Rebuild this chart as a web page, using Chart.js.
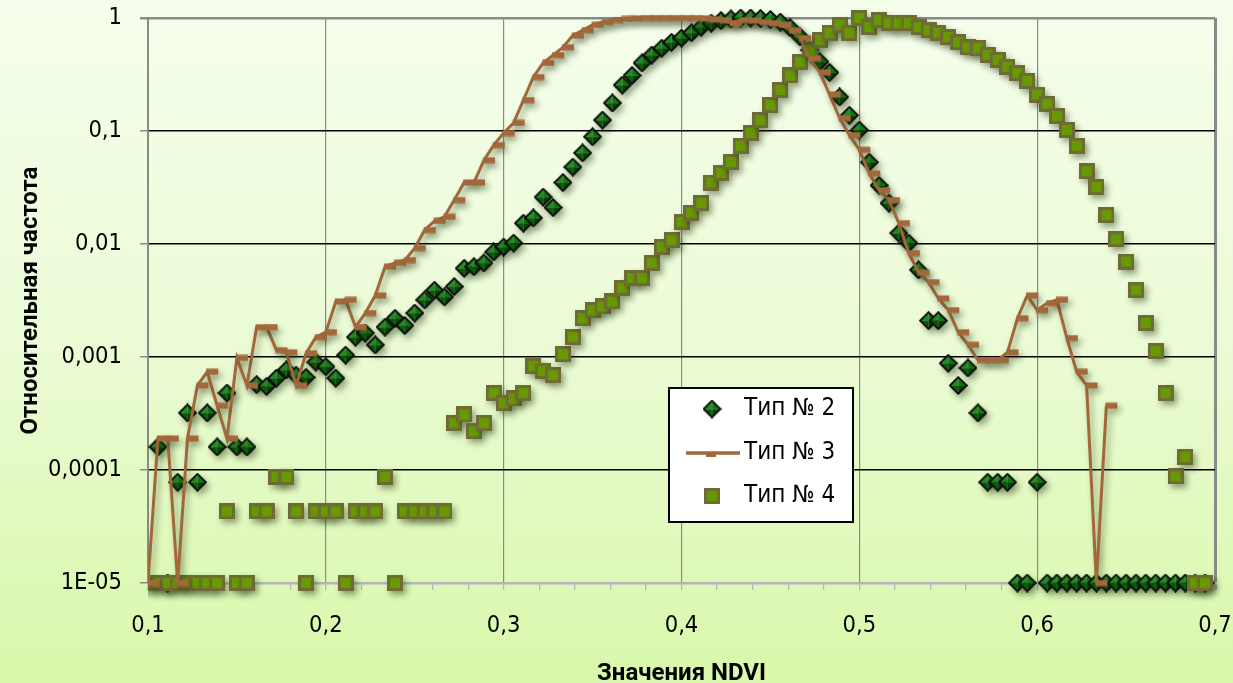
<!DOCTYPE html>
<html><head><meta charset="utf-8">
<script src="https://cdn.jsdelivr.net/npm/chart.js@4.4.1/dist/chart.umd.min.js"></script>
<style>html,body{margin:0;padding:0;background:#e8fbc8;}#wrap{width:1233px;height:683px;position:relative;}canvas{display:block;}</style>
</head><body><div id="wrap"><canvas id="c" width="1233" height="683"></canvas></div>
<script>
const ndvi = [0.1,0.1056,0.1111,0.1167,0.1222,0.1278,0.1333,0.1389,0.1444,0.15,
0.1556,0.1611,0.1667,0.1722,0.1778,0.1833,0.1889,0.1944,0.2,0.2056,
0.2111,0.2167,0.2222,0.2278,0.2333,0.2389,0.2444,0.25,0.2556,0.2611,
0.2667,0.2722,0.2778,0.2833,0.2889,0.2944,0.3,0.3056,0.3111,0.3167,
0.3222,0.3278,0.3333,0.3389,0.3444,0.35,0.3556,0.3611,0.3667,0.3722,
0.3778,0.3833,0.3889,0.3944,0.4,0.4056,0.4111,0.4167,0.4222,0.4278,
0.4333,0.4389,0.4444,0.45,0.4556,0.4611,0.4667,0.4722,0.4778,0.4833,
0.4889,0.4944,0.5,0.5056,0.5111,0.5167,0.5222,0.5278,0.5333,0.5389,
0.5444,0.55,0.5556,0.5611,0.5667,0.5722,0.5778,0.5833,0.5889,0.5944,
0.6,0.6056,0.6111,0.6167,0.6222,0.6278,0.6333,0.6389,0.6444,0.65,
0.6556,0.6611,0.6667,0.6722,0.6778,0.6833,0.6889,0.6944,0.7];

const type2 = [null,1.6e-4,1e-5,7.8e-5,3.2e-4,7.8e-5,3.2e-4,1.6e-4,4.8e-4,1.6e-4,
1.6e-4,5.7e-4,5.5e-4,6.5e-4,7.7e-4,6.9e-4,6.6e-4,9e-4,8.2e-4,6.5e-4,
1.04e-3,1.5e-3,1.63e-3,1.28e-3,1.84e-3,2.2e-3,1.9e-3,2.45e-3,3.2e-3,3.9e-3,
3.4e-3,4.2e-3,6.1e-3,6.3e-3,6.8e-3,8.5e-3,9.4e-3,1.02e-2,1.53e-2,1.7e-2,
2.6e-2,2.1e-2,3.5e-2,4.8e-2,6.4e-2,8.9e-2,0.125,0.177,0.255,0.31,
0.40,0.47,0.54,0.61,0.665,0.74,0.83,0.9,0.95,0.98,
1.0,1.0,0.99,0.97,0.92,0.82,0.68,0.52,0.41,0.33,
0.2,0.138,0.102,0.053,0.033,0.023,0.0125,0.0102,5.9e-3,2.1e-3,
2.1e-3,8.8e-4,5.6e-4,8e-4,3.2e-4,7.8e-5,7.8e-5,7.8e-5,1e-5,1e-5,
7.8e-5,1e-5,1e-5,1e-5,1e-5,1e-5,1e-5,1e-5,1e-5,1e-5,
1e-5,1e-5,1e-5,1e-5,1e-5,1e-5,1e-5,1e-5,null];

const type3 = [1e-5,1.9e-4,1.9e-4,1e-5,1.9e-4,5.6e-4,7.4e-4,3.7e-4,1.9e-4,9.8e-4,
5.6e-4,1.84e-3,1.84e-3,1.15e-3,1.1e-3,5.6e-4,1.08e-3,1.5e-3,1.66e-3,3.1e-3,
3.2e-3,1.84e-3,2.45e-3,3.5e-3,6.3e-3,6.8e-3,7.2e-3,9.2e-3,1.33e-2,1.6e-2,
1.74e-2,2.45e-2,3.5e-2,3.5e-2,5.5e-2,7.5e-2,0.096,0.118,0.188,0.30,
0.40,0.47,0.55,0.70,0.78,0.87,0.92,0.96,0.98,0.99,
1.0,1.0,1.0,1.0,1.0,1.0,0.99,0.97,0.96,0.9,
0.96,0.95,0.92,0.9,0.87,0.78,0.665,0.44,0.33,0.21,
0.13,0.092,0.068,0.042,0.030,0.0245,0.0153,8.3e-3,5.6e-3,4.6e-3,
3.3e-3,2.6e-3,1.66e-3,1.28e-3,9.4e-4,9.4e-4,9.4e-4,1.1e-3,2.2e-3,3.5e-3,
2.6e-3,3.0e-3,3.2e-3,1.47e-3,7.4e-4,5.6e-4,1e-5,3.7e-4,null,null,
null,null,null,null,null,null,null,null,null];

const type4 = [1e-5,1e-5,1e-5,1e-5,1e-5,1e-5,1e-5,1e-5,4.3e-5,1e-5,
1e-5,4.3e-5,4.3e-5,8.7e-5,8.7e-5,4.3e-5,1e-5,4.3e-5,4.3e-5,4.3e-5,
1e-5,4.3e-5,4.3e-5,4.3e-5,8.7e-5,1e-5,4.3e-5,4.3e-5,4.3e-5,4.3e-5,
4.3e-5,2.6e-4,3.1e-4,2.2e-4,2.6e-4,4.8e-4,3.9e-4,4.3e-4,4.8e-4,8.3e-4,
7.5e-4,6.9e-4,1.06e-3,1.5e-3,2.2e-3,2.6e-3,2.8e-3,3.1e-3,4.1e-3,5e-3,
5e-3,6.8e-3,9.4e-3,1.08e-2,1.57e-2,1.9e-2,2.3e-2,3.5e-2,4.25e-2,5.3e-2,
7.4e-2,0.096,0.125,0.17,0.23,0.31,0.41,0.52,0.64,0.74,
0.87,0.74,1.0,0.83,0.96,0.9,0.9,0.9,0.83,0.78,
0.74,0.68,0.61,0.55,0.54,0.47,0.425,0.37,0.325,0.277,
0.21,0.174,0.136,0.102,0.074,0.044,0.032,0.018,0.011,7e-3,
3.9e-3,2e-3,1.13e-3,4.8e-4,8.8e-5,1.3e-4,1e-5,1e-5,null];

const seriesNames = ['Тип № 2','Тип № 3','Тип № 4'];
const xTickValues = [0.1,0.2,0.3,0.4,0.5,0.6,0.7];
const xTickLabels = ['0,1','0,2','0,3','0,4','0,5','0,6','0,7'];
const yTickValues = [1e-5,1e-4,1e-3,1e-2,1e-1,1];
const yTickLabels = ['1E-05','0,0001','0,001','0,01','0,1','1'];
const xTitle = 'Значения NDVI';
const yTitle = 'Относительная частота';

const TICK_FONT = "'DejaVu Sans Condensed', 'Open Sans', sans-serif";
const TITLE_FONT = "Roboto, 'Open Sans', sans-serif";
const LEGEND_FONT = TICK_FONT;
const BROWN = '#A2673A';

function toPoints(ys){ const out=[]; ys.forEach((y,i)=>{ if(y!==null) out.push({x:ndvi[i], y:y}); }); return out; }

function makeDiamond(){
  const s=19, c=s/2, r=8.4; const cv=document.createElement('canvas'); cv.width=s; cv.height=s;
  const g=cv.getContext('2d');
  const tri=(a,b,col)=>{g.beginPath();g.moveTo(c,c);g.lineTo(a[0],a[1]);g.lineTo(b[0],b[1]);g.closePath();g.fillStyle=col;g.fill();};
  const T=[c,c-r],R=[c+r,c],B=[c,c+r],L=[c-r,c];
  tri(T,L,'#238a23'); tri(T,R,'#117611'); tri(R,B,'#034503'); tri(B,L,'#075a07');
  g.beginPath();g.moveTo(T[0],T[1]);g.lineTo(R[0],R[1]);g.lineTo(B[0],B[1]);g.lineTo(L[0],L[1]);g.closePath();
  g.lineWidth=1.8; g.strokeStyle='#0a0a0a'; g.stroke();
  return cv;
}
function makeSquare(){
  const s=16; const cv=document.createElement('canvas'); cv.width=s; cv.height=s;
  const g=cv.getContext('2d'); g.fillStyle='#669a00'; g.fillRect(1.5,1.5,13,13);
  g.lineWidth=3; g.strokeStyle='#6f6b34'; g.strokeRect(1.5,1.5,13,13); return cv;
}
function makeDash(){
  const w=26,h=7; const cv=document.createElement('canvas'); cv.width=w; cv.height=h;
  const g=cv.getContext('2d'); g.fillStyle=BROWN; g.fillRect(12,0.5,12,6); return cv;
}
const diamondImg=makeDiamond(), squareImg=makeSquare(), dashImg=makeDash();
const clipOpt={left:0,top:false,right:false,bottom:false};

const bgPlugin={id:'bg',beforeDraw(ch){const c=ch.ctx;const g=c.createLinearGradient(0,0,0,ch.height);
  g.addColorStop(0,'#F5FEEC');g.addColorStop(0.5,'#EBFBD5');g.addColorStop(1,'#D9F8AA');
  c.save();c.fillStyle=g;c.fillRect(0,0,ch.width,ch.height);c.restore();}};
const shadowPlugin={id:'shadow',
  beforeDatasetDraw(ch){const c=ch.ctx;c.save();c.shadowColor='rgba(30,50,10,0.45)';c.shadowBlur=6;c.shadowOffsetX=3;c.shadowOffsetY=4;},
  afterDatasetDraw(ch){ch.ctx.restore();}};
const legendPlugin={id:'boxLegend',afterDraw(ch){
  const c=ch.ctx; c.save();
  const bx=669,by=388,bw=184,bh=134;
  c.fillStyle='#fff'; c.fillRect(bx,by,bw,bh); c.lineWidth=2; c.strokeStyle='#000'; c.strokeRect(bx,by,bw,bh);
  const rows=[409,453,496];
  c.drawImage(diamondImg,712-diamondImg.width/2,rows[0]-diamondImg.height/2);
  c.beginPath(); c.moveTo(686,rows[1]); c.lineTo(740,rows[1]); c.lineWidth=3.5; c.strokeStyle=BROWN; c.stroke();
  c.fillStyle=BROWN; c.fillRect(706,rows[1]+1,10,3);
  c.drawImage(squareImg,712-squareImg.width/2,rows[2]-squareImg.height/2);
  c.fillStyle='#000'; c.font="24px "+LEGEND_FONT; c.textBaseline='middle'; c.textAlign='left';
  ch.data.datasets.forEach((d,i)=>c.fillText(d.label,744,rows[i]));
  c.restore();
}};

function same(a,b){return Math.abs(a-b)<1e-6;}
const ctx=document.getElementById('c').getContext('2d');
new Chart(ctx,{
  type:'line',
  data:{datasets:[
    {label:seriesNames[0],data:toPoints(type2),showLine:false,pointStyle:diamondImg,pointRadius:8,pointHoverRadius:8,order:2,clip:clipOpt},
    {label:seriesNames[1],data:toPoints(type3),showLine:true,borderColor:BROWN,borderWidth:3,tension:0,pointStyle:dashImg,pointRadius:6,pointHoverRadius:6,order:0,clip:clipOpt},
    {label:seriesNames[2],data:toPoints(type4),showLine:false,pointStyle:squareImg,pointRadius:8,pointHoverRadius:8,order:1,clip:clipOpt}
  ]},
  options:{
    responsive:false,animation:false,devicePixelRatio:1,
    layout:{padding:{top:18,right:18,left:0,bottom:0}},
    plugins:{legend:{display:false},tooltip:{enabled:false}},
    scales:{
      x:{type:'linear',min:0.1,max:0.7,
        afterBuildTicks:s=>{const t=[];for(let k=0;k<=30;k++)t.push({value:Math.round((0.1+k*0.02)*1000)/1000});s.ticks=t;},
        afterFit:s=>{s.height=100;s.paddingLeft=0;s.paddingRight=0;},
        ticks:{autoSkip:false,maxRotation:0,padding:22,color:'#000',font:{family:TICK_FONT,size:23.5},
          callback:v=>{const j=xTickValues.findIndex(m=>same(m,v));return j>=0?xTickLabels[j]:'';}},
        grid:{color:c=>{const v=c.tick.value;const j=xTickValues.findIndex(m=>same(m,v));if(j<=0)return 'rgba(0,0,0,0)';return '#8a8a8a';},
          lineWidth:c=>same(c.tick.value,0.7)?3:1.2,tickColor:'#b4b4bc',tickLength:7},
        border:{color:'#b4b4bc',width:2.5},
        title:{display:true,text:xTitle,color:'#000',font:{family:TITLE_FONT,size:24,weight:'bold',lineHeight:0.75},padding:{top:0,bottom:0}}
      },
      y:{type:'logarithmic',min:1e-5,max:1,
        afterBuildTicks:s=>{s.ticks=yTickValues.map(v=>({value:v}));},
        afterFit:s=>{s.width=148;s.paddingTop=0;s.paddingBottom=0;},
        ticks:{padding:18,color:'#000',font:{family:TICK_FONT,size:23.5},
          callback:v=>{const j=yTickValues.findIndex(m=>Math.abs(Math.log10(m)-Math.log10(v))<1e-6);return j>=0?yTickLabels[j]:'';}},
        grid:{color:c=>{const v=c.tick.value;if(same(v,1e-5))return 'rgba(0,0,0,0)';if(same(v,1))return '#8a8a8a';return '#000';},
          lineWidth:c=>same(c.tick.value,1)?2.5:1.5,tickColor:'#8a8a8a',tickLength:8},
        border:{color:'#8a8a8a',width:2},
        title:{display:true,text:yTitle,color:'#000',font:{family:TITLE_FONT,size:24,weight:'bold'},padding:{top:17,bottom:0}}
      }
    }
  },
  plugins:[bgPlugin,shadowPlugin,legendPlugin]
});
</script></body></html>
